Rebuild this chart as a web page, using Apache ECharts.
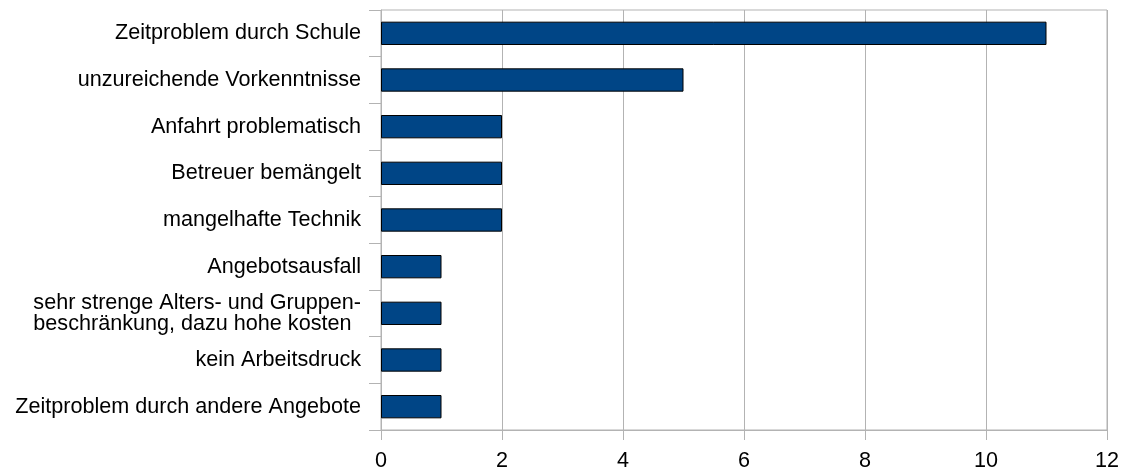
<!DOCTYPE html>
<html>
<head>
<meta charset="utf-8">
<script src="https://cdn.jsdelivr.net/npm/echarts@6/dist/echarts.min.js"></script>
<style>html,body{margin:0;padding:0;background:#fff}#c{width:1125px;height:473px}</style>
</head>
<body>
<div id="c"></div>
<script>
var categories = [
  "Zeitproblem durch Schule",
  "unzureichende Vorkenntnisse",
  "Anfahrt problematisch",
  "Betreuer bemängelt",
  "mangelhafte Technik",
  "Angebotsausfall",
  "sehr strenge Alters- und Gruppen-\nbeschränkung, dazu hohe kosten",
  "kein Arbeitsdruck",
  "Zeitproblem durch andere Angebote"
];
var values = [11, 5, 2, 2, 2, 1, 1, 1, 1];
var xTicks = [0, 2, 4, 6, 8, 10, 12];

var FS = 21.6;
var chart = echarts.init(document.getElementById('c'));
chart.setOption({
  animation: false,
  backgroundColor: '#fff',
  grid: {left: 381, right: 18, top: 10, bottom: 43, show: true, borderColor: '#b3b3b3', borderWidth: 1},
  xAxis: {
    type: 'value', min: xTicks[0], max: xTicks[xTicks.length - 1], interval: 2,
    axisLine: {show: true, lineStyle: {color: '#b3b3b3'}},
    axisTick: {show: true, length: 10, lineStyle: {color: '#b3b3b3'}},
    splitLine: {show: true, lineStyle: {color: '#b3b3b3'}},
    axisLabel: {color: '#000', fontFamily: 'Liberation Sans', fontSize: FS, margin: 20}
  },
  yAxis: {
    type: 'category', data: categories, inverse: true,
    axisLine: {show: true, lineStyle: {color: '#b3b3b3'}},
    axisTick: {show: true, length: 12, lineStyle: {color: '#b3b3b3'}},
    axisLabel: {
      color: '#000', fontFamily: 'Liberation Sans', fontSize: FS, margin: 20, lineHeight: 21, align: 'right',
      formatter: function (v) {
        if (v.indexOf('\n') < 0) return v;
        return v.split('\n').map(function (s) { return '{l|' + s + '}'; }).join('\n');
      },
      rich: {l: {align: 'left', color: '#000', fontFamily: 'Liberation Sans', fontSize: FS, lineHeight: 21}}
    }
  },
  series: [{
    type: 'bar', data: values, barCategoryGap: '50%',
    itemStyle: {color: '#004586', borderColor: '#000', borderWidth: 1}
  }]
});
</script>
</body>
</html>
